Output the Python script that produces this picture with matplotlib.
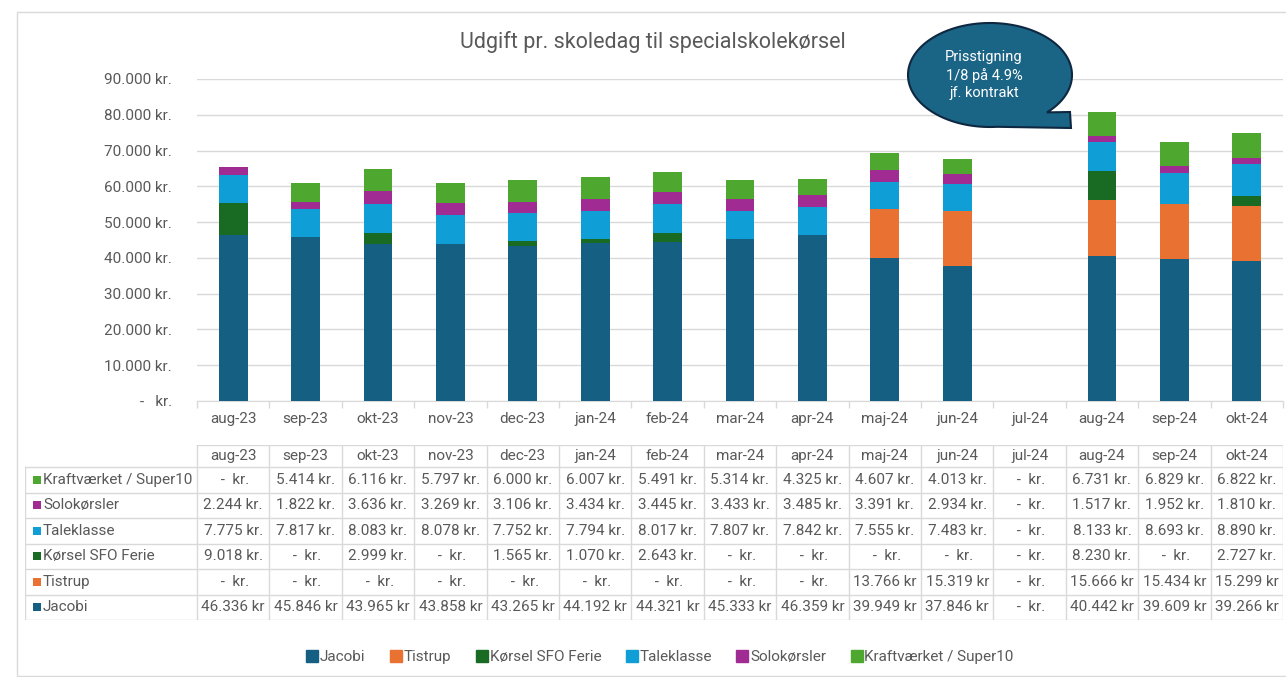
import matplotlib
matplotlib.use("Agg")
import matplotlib.pyplot as plt
import numpy as np
from matplotlib.patches import Rectangle, Polygon
from matplotlib.lines import Line2D
from matplotlib import font_manager

months = ["aug-23", "sep-23", "okt-23", "nov-23", "dec-23", "jan-24", "feb-24",
          "mar-24", "apr-24", "maj-24", "jun-24", "jul-24", "aug-24", "sep-24", "okt-24"]

jacobi = [46336, 45846, 43965, 43858, 43265, 44192, 44321, 45333, 46359, 39949, 37846, 0, 40442, 39609, 39266]
tistrup = [0, 0, 0, 0, 0, 0, 0, 0, 0, 13766, 15319, 0, 15666, 15434, 15299]
sfo_ferie = [9018, 0, 2999, 0, 1565, 1070, 2643, 0, 0, 0, 0, 0, 8230, 0, 2727]
taleklasse = [7775, 7817, 8083, 8078, 7752, 7794, 8017, 7807, 7842, 7555, 7483, 0, 8133, 8693, 8890]
solo = [2244, 1822, 3636, 3269, 3106, 3434, 3445, 3433, 3485, 3391, 2934, 0, 1517, 1952, 1810]
kraft = [0, 5414, 6116, 5797, 6000, 6007, 5491, 5314, 4325, 4607, 4013, 0, 6731, 6829, 6822]

series_names = ["Jacobi", "Tistrup", "Kørsel SFO Ferie", "Taleklasse", "Solokørsler", "Kraftværket / Super10"]
series_vals = [jacobi, tistrup, sfo_ferie, taleklasse, solo, kraft]
colors = ["#156082", "#E97132", "#196B24", "#0F9ED5", "#A02B93", "#4EA72E"]

yticks = [0, 10000, 20000, 30000, 40000, 50000, 60000, 70000, 80000, 90000]
title = "Udgift pr. skoledag til specialskolekørsel"
callout = "Prisstigning\n1/8 på 4.9%\njf. kontrakt"

avail = {f.name for f in font_manager.fontManager.ttflist}
fam = [f for f in ["Liberation Sans Narrow", "Roboto", "DejaVu Sans"] if f in avail]
plt.rcParams['font.family'] = fam

W, H = 1286, 677
fig = plt.figure(figsize=(W / 100, H / 100), dpi=100)
TXT = "#595959"
GRID = "#D9D9D9"


def fx(x):
    return x / W


def fy(y):
    return 1 - y / H


# outer border
fig.add_artist(Rectangle((fx(17), fy(676)), fx(1300 - 17), fy(12) - fy(676),
                         transform=fig.transFigure, fill=False, edgecolor=GRID, lw=1))

# main axes
L, R, T, B = 197, 1283, 79, 401
ax = fig.add_axes([fx(L), fy(B), fx(R - L), fy(T) - fy(B)])
n = len(months)
x = np.arange(n)
bottom = np.zeros(n)
for name, vals, c in zip(series_names, series_vals, colors):
    v = np.array(vals, dtype=float)
    ax.bar(x, v, 0.4, bottom=bottom, color=c, label=name, zorder=3)
    bottom += v
ax.set_xlim(-0.5, n - 0.5)
ax.set_ylim(0, 90000)
ax.set_yticks(yticks)


def fmt_y(v):
    if v == 0:
        return "-   kr."
    return f"{v:,.0f}".replace(",", ".") + " kr."


ax.set_yticklabels([fmt_y(v) for v in yticks], fontsize=11, color=TXT)
ax.tick_params(axis='y', length=0, pad=18)
ax.set_xticks(x)
ax.set_xticklabels(months, fontsize=11, color=TXT)
ax.tick_params(axis='x', length=0, pad=8)
ax.set_xticks(np.arange(n + 1) - 0.5, minor=True)
ax.tick_params(axis='x', which='minor', length=5, color=GRID, width=1)
for s in ["top", "right", "left"]:
    ax.spines[s].set_visible(False)
ax.spines["bottom"].set_color(GRID)
ax.grid(axis='y', color=GRID, lw=1, zorder=0)
ax.set_axisbelow(True)
ax.patch.set_alpha(0)

fig.text(fx(653), fy(42), title, ha='center', va='center', fontsize=15.5, color=TXT)

# table
TL, TT, TB = 25, 445, 620
unit = (R - L) / n
tax = fig.add_axes([fx(TL), fy(TB), fx(R - TL), fy(TT) - fy(TB)])
x0 = -0.5 - (L - TL) / unit
tax.set_xlim(x0, n - 0.5)
tax.set_ylim(TB - TT, 0)
tax.axis('off')
hdr = 22
rowh = (TB - TT - hdr) / 6
for i in range(n + 1):
    tax.plot([i - 0.5, i - 0.5], [0, TB - TT], color=GRID, lw=1)
tax.plot([x0, x0], [hdr, TB - TT], color=GRID, lw=1)
tax.plot([-0.5, n - 0.5], [0, 0], color=GRID, lw=1)
for r in range(7):
    yy = hdr + r * rowh
    tax.plot([x0, n - 0.5], [yy, yy], color=GRID, lw=1)
for i, m in enumerate(months):
    tax.text(i, hdr / 2, m, ha='center', va='center', fontsize=11, color=TXT)

order = list(range(6))[::-1]
for r, si in enumerate(order):
    yc = hdr + r * rowh + rowh / 2
    name = series_names[si]
    vals = series_vals[si]
    px = x0 + 8 / unit
    tax.add_patch(Rectangle((px, yc - 4), 8 / unit, 8, color=colors[si], lw=0))
    tax.text(x0 + 18 / unit, yc, name, ha='left', va='center', fontsize=11, color=TXT)
    suffix = " kr" if si in (0, 1) else " kr."
    for i, v in enumerate(vals):
        s = " -  kr." if v == 0 else f"{v:,.0f}".replace(",", ".") + suffix
        tax.text(i, yc, s, ha='center', va='center', fontsize=11, color=TXT)

# legend
handles = [Line2D([0], [0], marker='s', linestyle='', markersize=8, markerfacecolor=c,
                  markeredgecolor=c) for c in colors]
fig.legend(handles, series_names, loc='center', bbox_to_anchor=(fx(660), fy(657)), ncol=6,
           frameon=False, fontsize=11, labelcolor=TXT, handletextpad=0.1, columnspacing=1.6,
           handlelength=0.8)

# callout
cx, cy, a, b = 990, 75, 82, 52
t = np.radians(np.linspace(85, 406, 220))
pts = [(fx(cx + a * np.cos(tt)), fy(cy + b * np.sin(tt))) for tt in t]
pts.append((fx(1070), fy(112)))
pts.append((fx(1071), fy(128)))
fig.add_artist(Polygon(pts, closed=True, transform=fig.transFigure, facecolor="#1A6485",
                       edgecolor="#0E2841", lw=1.5, zorder=10))
fig.text(fx(984), fy(75), callout, ha='center', va='center', fontsize=10.5, color='white',
         linespacing=1.35, zorder=11)

fig.savefig("out.png", dpi=100)
